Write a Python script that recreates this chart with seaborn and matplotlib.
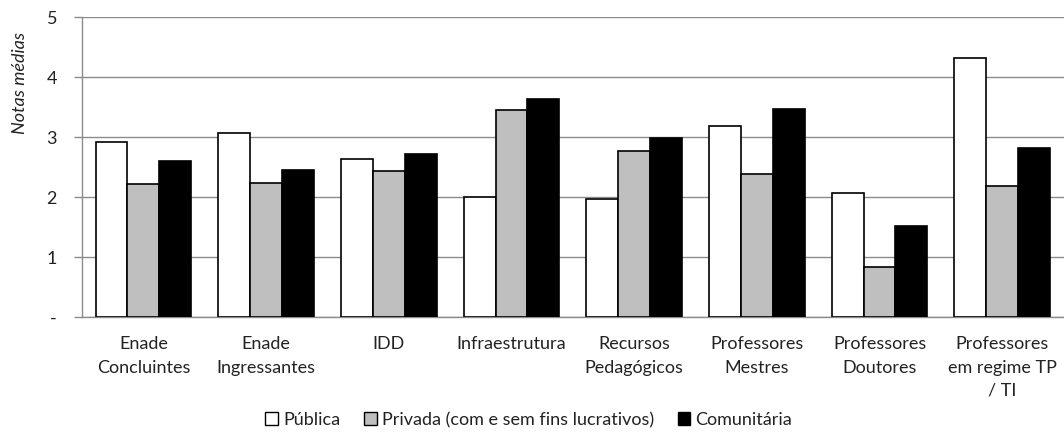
import matplotlib
matplotlib.use("Agg")
import matplotlib.pyplot as plt
import seaborn as sns
import pandas as pd
from matplotlib.patches import Patch

categories = ["Enade\nConcluintes", "Enade\nIngressantes", "IDD", "Infraestrutura",
              "Recursos\nPedagógicos", "Professores\nMestres", "Professores\nDoutores",
              "Professores\nem regime TP\n/ TI"]
series = ["Pública", "Privada (com e sem fins lucrativos)", "Comunitária"]
publica = [2.91, 3.06, 2.63, 2.00, 1.97, 3.18, 2.07, 4.31]
privada = [2.21, 2.23, 2.44, 3.45, 2.76, 2.38, 0.83, 2.19]
comunitaria = [2.60, 2.45, 2.71, 3.63, 2.99, 3.46, 1.51, 2.81]
yticks = [0, 1, 2, 3, 4, 5]
ylabels = ["-", "1", "2", "3", "4", "5"]
colors = ["#FFFFFF", "#BFBFBF", "#000000"]

rows = []
for s, vals in zip(series, [publica, privada, comunitaria]):
    for c, v in zip(categories, vals):
        rows.append({"cat": c, "serie": s, "val": v})
df = pd.DataFrame(rows)

sns.set_style("white")
plt.rcParams["font.family"] = ["Lato", "DejaVu Sans"]
fs = 13

fig = plt.figure(figsize=(10.64, 4.32), dpi=100)
ax = fig.add_axes([0.0771, 0.2662, 0.9225, 0.6944])

sns.barplot(data=df, x="cat", y="val", hue="serie", order=categories, hue_order=series,
            palette=colors, width=0.78, edgecolor="black", linewidth=1.2,
            errorbar=None, legend=False, ax=ax, zorder=3)

ax.set_ylim(0, 5)
ax.set_xlim(-0.5, 7.5)
ax.set_yticks(yticks)
ax.set_yticklabels(ylabels, fontsize=fs, color="#222222")
ax.yaxis.grid(True, color="#8C8C8C", linewidth=1.0, zorder=0)
ax.set_axisbelow(True)
ax.set_xticks(range(len(categories)))
ax.set_xticklabels(categories, fontsize=fs, linespacing=1.55, color="#222222")
ax.set_xticks([i - 0.5 for i in range(len(categories) + 1)], minor=True)
ax.tick_params(axis="x", which="major", length=0, pad=14)
ax.tick_params(axis="x", which="minor", length=5, color="#8C8C8C", width=1)
ax.tick_params(axis="y", length=6, color="#8C8C8C", width=1, pad=12, left=True)
ax.set_xlabel("")
ax.set_ylabel("Notas médias", fontsize=fs, style="italic", color="#222222")
ax.yaxis.set_label_coords(-0.055, 0.78)
for side in ["top", "right"]:
    ax.spines[side].set_visible(False)
for side in ["left", "bottom"]:
    ax.spines[side].set_color("#8C8C8C")
    ax.spines[side].set_linewidth(1.0)

handles = [Patch(facecolor=c, edgecolor="black", linewidth=1.0) for c in colors]
leg = fig.legend(handles, series, loc="center", bbox_to_anchor=(0.497, 0.028), ncol=3, frameon=False,
                 fontsize=fs, handlelength=0.7, handleheight=0.7, handletextpad=0.3, columnspacing=1.3)
for t in leg.get_texts():
    t.set_color("#222222")

fig.savefig("out.png", dpi=100)
